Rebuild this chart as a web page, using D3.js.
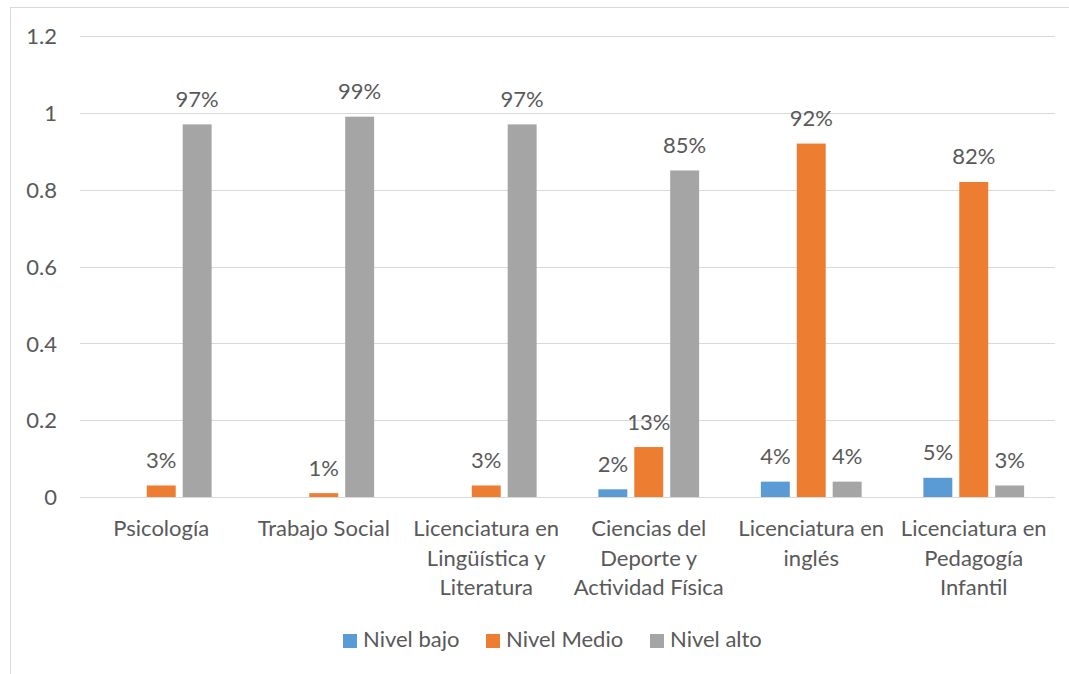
<!DOCTYPE html>
<html><head><meta charset="utf-8">
<script src="https://cdn.jsdelivr.net/npm/d3@7"></script>
<style>body{margin:0;background:#fff}text{font-family:Lato,sans-serif;fill:#595959}</style>
</head><body>
<svg id="c" width="1069" height="674"></svg>
<script>
const categories = [["Psicología"],["Trabajo Social"],["Licenciatura en","Lingüística y","Literatura"],["Ciencias del","Deporte y","Actividad Física"],["Licenciatura en","inglés"],["Licenciatura en","Pedagogía","Infantil"]];
const seriesNames = ["Nivel bajo","Nivel Medio","Nivel alto"];
const nivelBajo  = [0, 0, 0, 0.02, 0.04, 0.05];
const nivelMedio = [0.03, 0.01, 0.03, 0.13, 0.92, 0.82];
const nivelAlto  = [0.97, 0.99, 0.97, 0.85, 0.04, 0.03];
const yTicks = [0, 0.2, 0.4, 0.6, 0.8, 1, 1.2];
const colors = ["#5B9BD5","#ED7D31","#A5A5A5"];
const seriesVals = [nivelBajo, nivelMedio, nivelAlto];
const FS = "22px";

const svg = d3.select("#c");
svg.append("rect").attr("x",10.5).attr("y",7.5).attr("width",1080).attr("height",700).attr("fill","none").attr("stroke","#D9D9D9");

const L=80, R=1055, T=36, B=497;
const y = d3.scaleLinear().domain([0,1.2]).range([B,T]);
const x0 = d3.scaleBand().domain(d3.range(categories.length)).range([L,R]).padding(0);
const bw = x0.bandwidth();
const x1 = d3.scaleBand().domain(d3.range(3)).range([bw*0.19, bw*0.81]).paddingInner(0.194).paddingOuter(0);

svg.append("g").selectAll("line").data(yTicks).join("line")
  .attr("x1",L).attr("x2",R).attr("y1",d=>Math.round(y(d))+0.5).attr("y2",d=>Math.round(y(d))+0.5)
  .attr("stroke","#D9D9D9").attr("stroke-width",1);

const yAxis = d3.axisLeft(y).tickValues(yTicks).tickSize(0).tickPadding(0).tickFormat(d=>String(+d.toFixed(1)));
const gy = svg.append("g").attr("transform",`translate(57,0)`).call(yAxis);
gy.select(".domain").remove();
gy.selectAll("text").style("font-size",FS).attr("fill","#595959").attr("dy","0.35em").style("font-family","Lato,sans-serif");

const data = [];
categories.forEach((c,i)=>seriesVals.forEach((s,j)=>data.push({i,j,v:s[i]})));
svg.append("g").selectAll("rect").data(data).join("rect")
  .attr("x",d=>x0(d.i)+x1(d.j)).attr("width",x1.bandwidth())
  .attr("y",d=>y(d.v)).attr("height",d=>B-y(d.v)).attr("fill",d=>colors[d.j]);

svg.append("g").selectAll("text").data(data.filter(d=>d.v>0)).join("text")
  .attr("x",d=>x0(d.i)+x1(d.j)+x1.bandwidth()/2).attr("y",d=>y(d.v)-17.5)
  .attr("text-anchor","middle").style("font-size",FS)
  .text(d=>Math.round(d.v*100)+"%");

const gx = svg.append("g");
categories.forEach((lines,i)=>{
  const t = gx.append("text").attr("text-anchor","middle").style("font-size",FS)
    .attr("x",x0(i)+bw/2).attr("y",536);
  lines.forEach((ln,k)=>t.append("tspan").attr("x",x0(i)+bw/2).attr("dy",k?29.5:0).text(ln));
});

const legX = [343,486,650];
const lg = svg.append("g");
seriesNames.forEach((n,j)=>{
  lg.append("rect").attr("x",legX[j]).attr("y",634).attr("width",14).attr("height",14).attr("fill",colors[j]);
  lg.append("text").attr("x",legX[j]+20).attr("y",647).style("font-size",FS).text(n);
});
</script>
</body></html>
